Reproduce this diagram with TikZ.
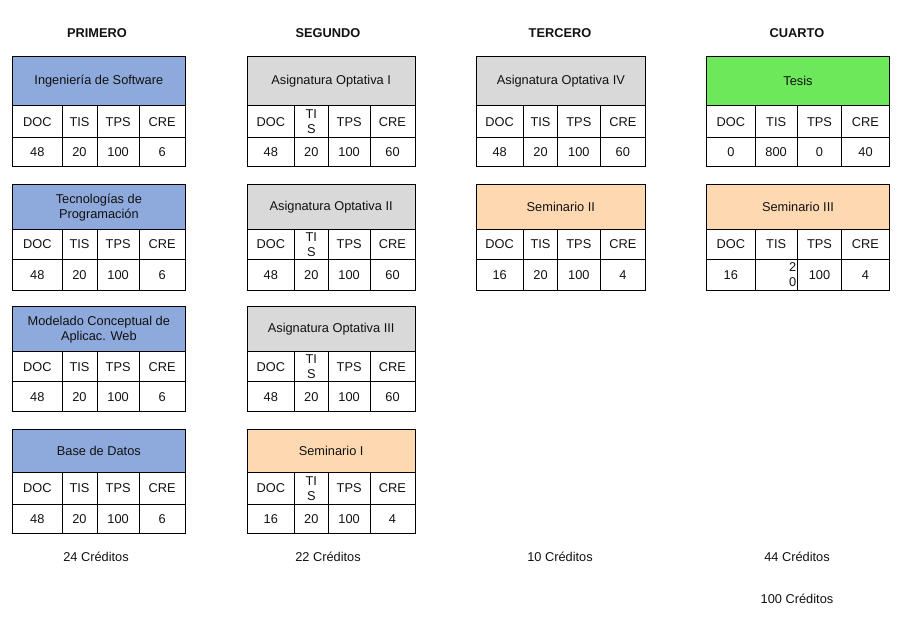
\documentclass[tikz,border=0pt]{standalone}
\usepackage{fontspec}
\setmainfont{Liberation Sans}
\definecolor{ink}{HTML}{111111}
\definecolor{coreblue}{HTML}{8EA9DB}
\definecolor{optgray}{HTML}{D9D9D9}
\definecolor{seminar}{HTML}{FED8B1}
\definecolor{thesis}{HTML}{6DE85A}

\tikzset{
  cellbox/.style={draw=black, line width=1pt, inner sep=1pt, outer sep=0pt,
    align=center, text=ink, font=\fontsize{12.8}{15}\selectfont},
  yeartitle/.style={text=ink, font=\fontsize{12.8}{15}\selectfont\bfseries},
  credit/.style={text=ink, font=\fontsize{12.8}{15}\selectfont},
}

% one rectangular cell: [options]{name}{x0}{y0}{x1}{y1}{text}
\newcommand\cell[7][]{%
  \node[cellbox, #1, minimum width={(#5-#3)*1pt}, minimum height={(#6-#4)*1pt},
        anchor=north west] (#2) at (#3,#4) {#7};}

% column grid of a year and the label of its TIS column
\newcommand\setcols[6]{\def\bxA{#1}\def\bxB{#2}\def\bxC{#3}\def\bxD{#4}\def\bxE{#5}\def\tislabel{#6}}
% row grid of a course block
\newcommand\setrows[4]{\def\byA{#1}\def\byB{#2}\def\byC{#3}\def\byD{#4}}

% course block: [TIS value options]{name}{fill}{title}{DOC}{TIS}{TPS}{CRE}
\newcommand\course[8][]{%
  \cell[fill=#3]{#2}{\bxA}{\byA}{\bxE}{\byB}{#4}
  \cell{#2-doc}{\bxA}{\byB}{\bxB}{\byC}{DOC}
  \cell{#2-tis}{\bxB}{\byB}{\bxC}{\byC}{\tislabel}
  \cell{#2-tps}{\bxC}{\byB}{\bxD}{\byC}{TPS}
  \cell{#2-cre}{\bxD}{\byB}{\bxE}{\byC}{CRE}
  \cell{#2-vdoc}{\bxA}{\byC}{\bxB}{\byD}{#5}
  \cell[#1]{#2-vtis}{\bxB}{\byC}{\bxC}{\byD}{#6}
  \cell{#2-vtps}{\bxC}{\byC}{\bxD}{\byD}{#7}
  \cell{#2-vcre}{\bxD}{\byC}{\bxE}{\byD}{#8}}

\begin{document}
\begin{tikzpicture}[x=1pt, y=-1pt]
\useasboundingbox (0,0) rectangle (903,617);

% year headings
\node[yeartitle] (y1) at (97,33) {PRIMERO};
\node[yeartitle] (y2) at (328,33) {SEGUNDO};
\node[yeartitle] (y3) at (560,33) {TERCERO};
\node[yeartitle] (y4) at (797,33) {CUARTO};

% first year
\setcols{12.7}{62}{97}{139.3}{185}{TIS}
\setrows{56.7}{106}{138}{166.7}
\course{isw}{coreblue}{Ingeniería de Software}{48}{20}{100}{6}
\setrows{185}{229.3}{259.3}{290.7}
\course{tpr}{coreblue}{Tecnologías de\\Programación}{48}{20}{100}{6}
\setrows{306.7}{351.7}{382}{411.7}
\course{mcw}{coreblue}{Modelado Conceptual de\\Aplicac. Web}{48}{20}{100}{6}
\setrows{429.3}{472.3}{504.3}{533.3}
\course{bdd}{coreblue}{Base de Datos}{48}{20}{100}{6}

% second year
\setcols{247.3}{294.3}{328.3}{370}{415}{TI\\S}
\setrows{56.7}{106}{138}{166.7}
\course{op1}{optgray}{Asignatura Optativa I}{48}{20}{100}{60}
\setrows{185}{229.3}{259.3}{290.7}
\course{op2}{optgray}{Asignatura Optativa II}{48}{20}{100}{60}
\setrows{306.7}{351.7}{382}{411.7}
\course{op3}{optgray}{Asignatura Optativa III}{48}{20}{100}{60}
\setrows{429.3}{472.3}{504.3}{533.3}
\course{se1}{seminar}{Seminario I}{16}{20}{100}{4}

% third year
\setcols{476}{523.3}{557.7}{600}{645.7}{TIS}
\setrows{56.7}{106}{138}{166.7}
\course{op4}{optgray}{Asignatura Optativa IV}{48}{20}{100}{60}
\setrows{185}{229.3}{259.3}{290.7}
\course{se2}{seminar}{Seminario II}{16}{20}{100}{4}

% fourth year
\setcols{706.7}{755}{797.3}{841.7}{889.3}{TIS}
\setrows{56.7}{106}{138}{166.7}
\course{tes}{thesis}{Tesis}{0}{800}{0}{40}
\setrows{185}{229.3}{259.3}{290.7}
\course[align=right, text width=40pt]{se3}{seminar}{Seminario III}{16}{2\\0}{100}{4}

% credit totals
\node[credit] (c1) at (96,557) {24 Créditos};
\node[credit] (c2) at (328,557) {22 Créditos};
\node[credit] (c3) at (560,557) {10 Créditos};
\node[credit] (c4) at (797,557) {44 Créditos};
\node[credit] (ctot) at (797,599) {100 Créditos};
\end{tikzpicture}
\end{document}
